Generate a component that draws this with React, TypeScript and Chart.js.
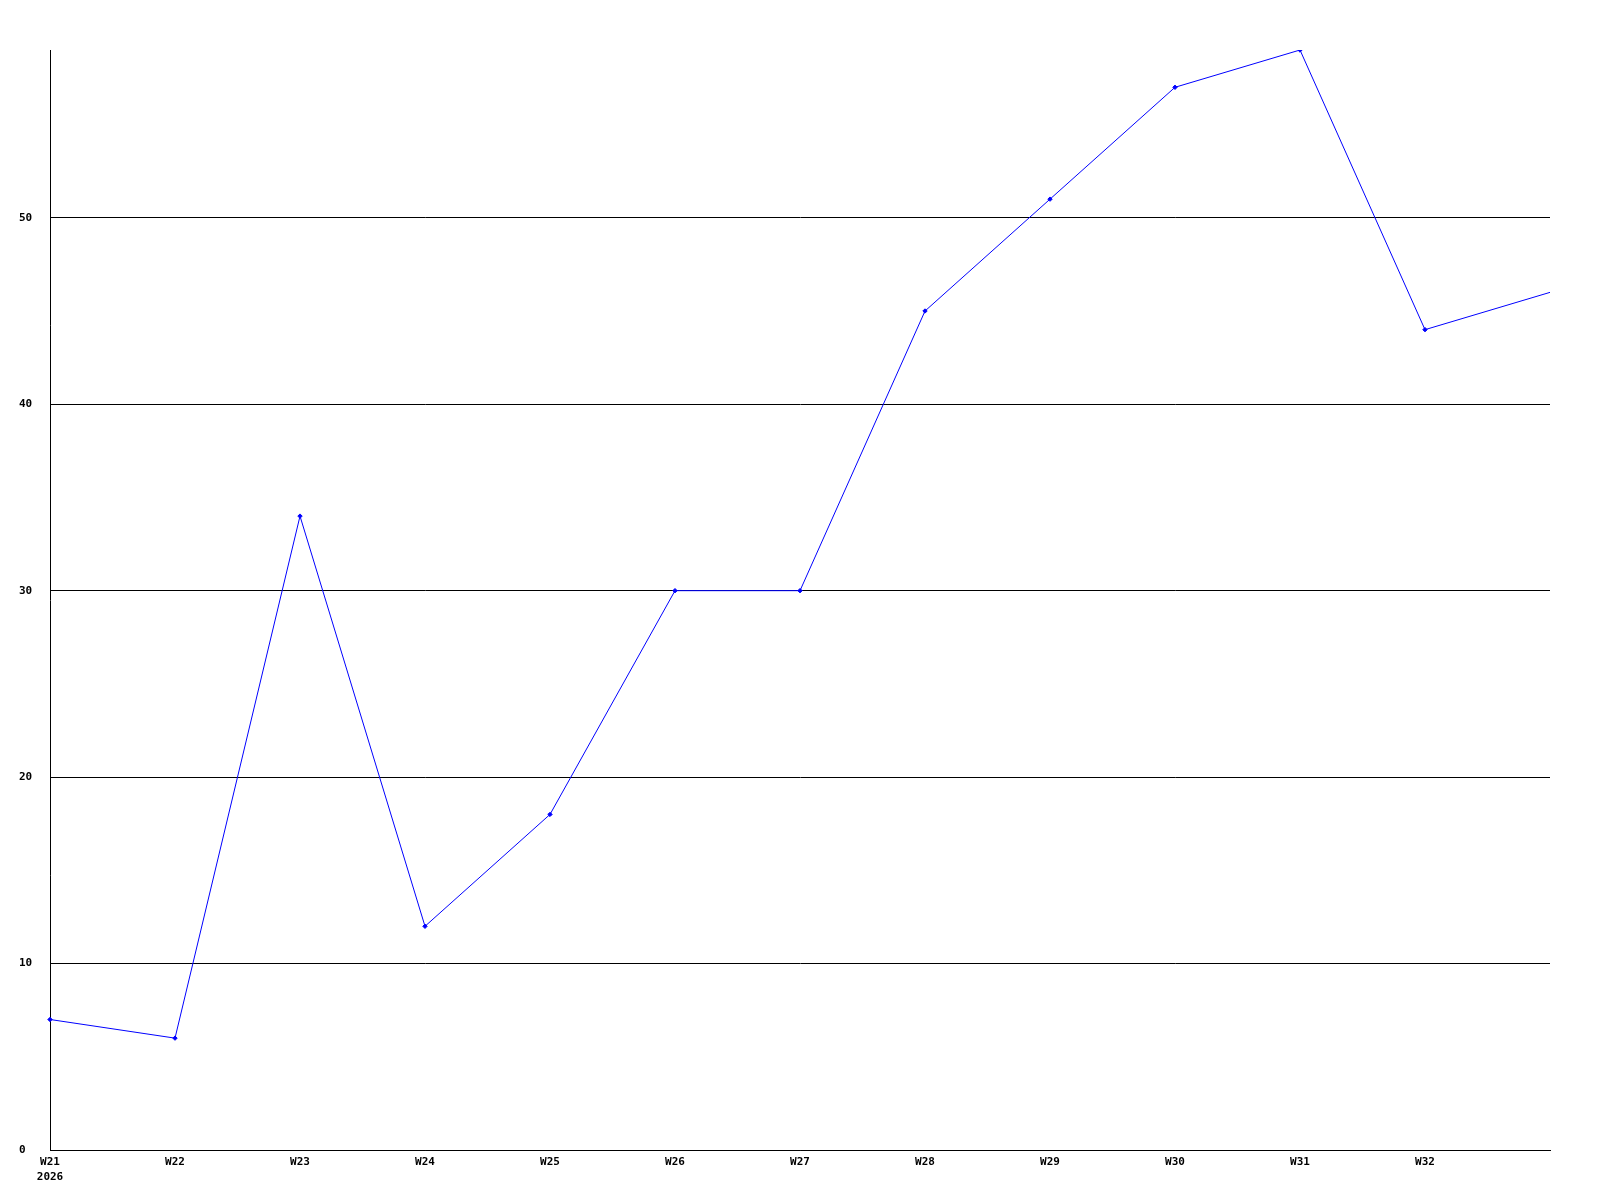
import React, { useEffect, useRef } from "react";
import { Chart, registerables } from "chart.js";

Chart.register(...registerables);

const weeks = ["W21", "W22", "W23", "W24", "W25", "W26", "W27", "W28", "W29", "W30", "W31", "W32", "W33"];
const yearLabel = "2026";
const values = [7, 6, 34, 12, 18, 30, 30, 45, 51, 57, 59, 44, 46];
const yTicks = [0, 10, 20, 30, 40, 50];
const yMax = 59;

export default function App() {
  const ref = useRef<HTMLCanvasElement | null>(null);
  useEffect(() => {
    if (!ref.current) return;
    const font = { family: "'DejaVu Sans Mono', monospace", size: 11, weight: "bold" as const, lineHeight: 1.4 };
    const chart = new Chart(ref.current, {
      type: "line",
      data: {
        labels: weeks,
        datasets: [
          {
            data: values,
            borderColor: "#0000ff",
            backgroundColor: "#0000ff",
            borderWidth: 1,
            tension: 0,
            pointStyle: "rectRot",
            pointRadius: values.map((_, i) => (i === values.length - 1 ? 0 : 2.2)),
            pointBorderWidth: 1,
            fill: false,
          },
        ],
      },
      options: {
        animation: false,
        responsive: false,
        maintainAspectRatio: false,
        layout: { padding: { left: 19, right: 50, top: 50, bottom: 0 } },
        plugins: { legend: { display: false }, tooltip: { enabled: false } },
        scales: {
          x: {
            type: "category",
            offset: false,
            grid: { display: false, drawTicks: false },
            border: { display: true, color: "#000", width: 1 },
            ticks: {
              color: "#000",
              font,
              padding: 4,
              maxRotation: 0,
              autoSkip: false,
              callback: (_v: any, i: number) => {
                if (i === weeks.length - 1) return "";
                return i === 0 ? [weeks[i], yearLabel] : weeks[i];
              },
            },
            afterFit: (axis: any) => {
              axis.height = 50;
            },
          },
          y: {
            min: 0,
            max: yMax,
            z: 1,
            grid: { color: "#000", lineWidth: 1, drawTicks: false },
            border: { display: true, color: "#000", width: 1 },
            ticks: { color: "#000", font, padding: 17, stepSize: 10, crossAlign: "far" },
            afterBuildTicks: (axis: any) => {
              axis.ticks = yTicks.map((v) => ({ value: v }));
            },
            afterFit: (axis: any) => {
              axis.width = 31;
            },
          },
        },
      },
    });
    return () => chart.destroy();
  }, []);
  return (
    <div style={{ position: "fixed", left: 0, top: 0, width: 1600, height: 1200, background: "#fff" }}>
      <canvas ref={ref} width={1600} height={1200} style={{ width: 1600, height: 1200 }} />
    </div>
  );
}
